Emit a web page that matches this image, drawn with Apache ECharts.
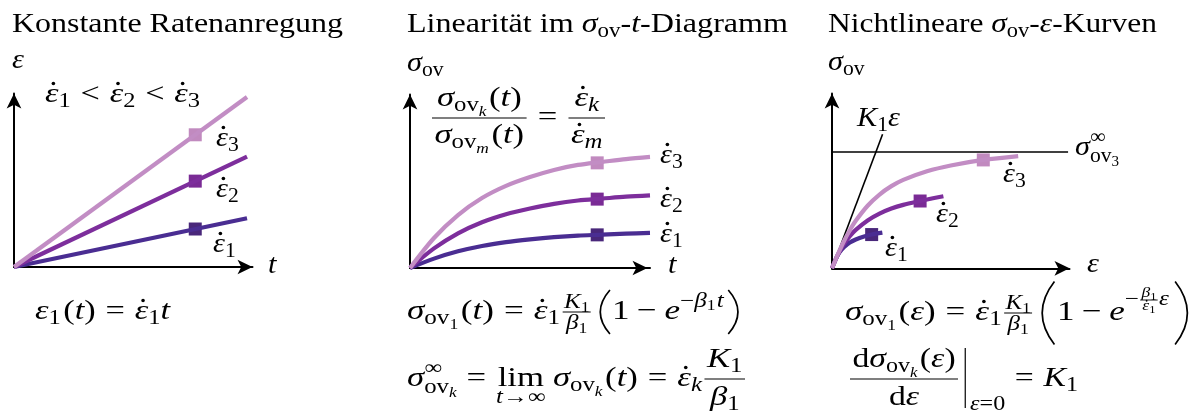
<!DOCTYPE html>
<html>
<head>
<meta charset="utf-8">
<script src="https://cdn.jsdelivr.net/npm/echarts@6/dist/echarts.min.js"></script>
<style>
  html, body { margin: 0; padding: 0; background: #fff; }
  #chart { width: 1203px; height: 415px; }
</style>
</head>
<body>
<div id="chart"></div>
<script>
// ---------- data ----------
// colours for strain rates ε̇1 < ε̇2 < ε̇3
const rateColors = ['#4a2d92', '#7d2e9c', '#c28dc4'];
const markColors = ['#49277a', '#7a2b95', '#c18abf'];

// Konstante Ratenanregung: ε(t) = ε̇_k t
const rampTime = [0, 9.77];
const rampStrainEnd = [2.81, 6.36, 9.80];
const rampMarkTime = 7.6;
const rampMarkStrain = [2.19, 4.95, 7.62];

// σ_ov over t
const ovTime = [0, 1, 2, 3, 4, 5, 6, 7, 8, 9, 10];
const ovStress1 = [0, 0.54, 0.96, 1.27, 1.49, 1.65, 1.78, 1.87, 1.92, 1.98, 2.02];
const ovStress2 = [0, 1.13, 2.00, 2.64, 3.10, 3.43, 3.70, 3.89, 4.00, 4.11, 4.19];
const ovStress3 = [0, 1.73, 3.05, 4.03, 4.73, 5.24, 5.65, 5.94, 6.11, 6.28, 6.40];
const ovMarkTime = 7.8;
const ovMarkStress = [1.91, 3.97, 6.06];

// σ_ov over ε
const curveStrain1 = [0, 0.15, 0.3, 0.5, 0.75, 1.0, 1.35, 1.67, 2.12];
const curveStress1 = [0, 0.50, 0.88, 1.20, 1.47, 1.65, 1.82, 1.93, 2.04];
const curveStrain2 = [0, 0.25, 0.5, 0.75, 1.0, 1.5, 2.0, 2.5, 3.0, 3.71, 4.2, 4.69];
const curveStress2 = [0, 0.78, 1.38, 1.84, 2.20, 2.74, 3.13, 3.42, 3.63, 3.85, 3.99, 4.12];
const curveStrain3 = [0, 0.25, 0.5, 0.75, 1.0, 1.5, 2.0, 2.5, 3.0, 4.0, 5.0, 6.37, 7.84];
const curveStress3 = [0, 0.81, 1.55, 2.18, 2.72, 3.58, 4.22, 4.70, 5.06, 5.55, 5.88, 6.20, 6.42];
const curveMarkIndex = [7, 9, 11];
const asymptoteStress = 6.65;
const asymptoteStrainEnd = 9.94;
const tangentEnd = [2.13, 7.67];

// ---------- formula typesetting helpers ----------
const FAMILY = 'Liberation Serif';
const meas = document.createElement('canvas').getContext('2d');
function font(s, it) { return (it ? 'italic ' : '') + s + 'px "' + FAMILY + '"'; }
function tw(t, s, it) { meas.font = font(s, it); return meas.measureText(t).width; }
const midCache = {};
// distance from the middle of the em box down to the alphabetic baseline
function mid(s, it) {
  const key = s + '|' + it;
  if (!(key in midCache)) {
    meas.font = font(s, it);
    meas.textBaseline = 'middle';
    midCache[key] = meas.measureText('H').actualBoundingBoxDescent;
    meas.textBaseline = 'alphabetic';
  }
  return midCache[key];
}

const R = (t, s = 28, dy = 0, g = 0) => ({ k: 't', t, s, i: false, dy, g });
const I = (t, s = 28, dy = 0, g = 0) => ({ k: 't', t, s, i: true, dy, g });
const E = (s = 28, dy = 0, g = 0) => ({ k: 't', t: 'ε', s, i: true, dy, g, dot: true });
const F = (num, den, o = {}) => Object.assign({ k: 'f', num, den, up: 12, down: 26, ax: 7, dy: 0, pad: 2, lw: 1.2, g: 0 }, o);
const P = (ch, h, w, g = 0) => ({ k: 'p', ch, h, w, g });
const SS = (sup, sub, g = 0) => ({ k: 'ss', sup, sub, g });
const U = (main, under, udy, g = 0) => ({ k: 'u', main, under, udy, g });
const V = (top, bot, w, g = 0) => ({ k: 'v', top, bot, w, g });

const graphics = [];

function lay(toks, x, base, c) {
  for (const k of toks) {
    x += k.g || 0;
    if (k.k === 't') {
      const w = tw(k.t, k.s, k.i);
      if (c) {
        const X = c.X0 + x * c.sx, Y = base + k.dy;
        // text boxes are top-aligned: the line box is one em tall, glyphs centred in it
        c.out.push({
          type: 'text', x: X, y: Y - mid(k.s, k.i) - k.s / 2, scaleX: c.sx, silent: true,
          style: { text: k.t, font: font(k.s, k.i), fill: '#000' }
        });
        if (k.dot) {
          c.out.push({ type: 'circle', silent: true,
            shape: { cx: X + w * 0.62 * c.sx, cy: Y - 0.66 * k.s, r: 0.065 * k.s }, style: { fill: '#000' } });
        }
      }
      x += w;
    } else if (k.k === 'f') {
      const wn = lay(k.num, 0, 0, null), wd = lay(k.den, 0, 0, null);
      const w = Math.max(wn, wd) + 2 * k.pad;
      if (c) {
        const ay = base + k.dy - k.ax;
        lay(k.num, x + (w - wn) / 2, ay - k.up, c);
        lay(k.den, x + (w - wd) / 2, ay + k.down, c);
        c.out.push({ type: 'rect', silent: true,
          shape: { x: c.X0 + x * c.sx, y: ay - k.lw / 2, width: w * c.sx, height: k.lw }, style: { fill: '#000' } });
      }
      x += w;
    } else if (k.k === 'p') {
      if (c) {
        const ay = base - 7, top = ay - k.h / 2, bot = ay + k.h / 2;
        const xl = c.X0 + x * c.sx, xr = c.X0 + (x + k.w) * c.sx, wd = xr - xl;
        let xe, xb;
        if (k.ch === '(') { xe = xl + wd * 0.85; xb = xl + wd * 0.15; } else { xe = xl + wd * 0.15; xb = xl + wd * 0.85; }
        c.out.push({ type: 'bezierCurve', silent: true,
          shape: { x1: xe, y1: top, x2: xe, y2: bot, cpx1: 2 * xb - xe, cpy1: ay },
          style: { stroke: '#000', lineWidth: 1.7, fill: 'none' } });
      }
      x += k.w;
    } else if (k.k === 'ss') {
      const w1 = lay(k.sup, 0, 0, null), w2 = lay(k.sub, 0, 0, null);
      if (c) { lay(k.sup, x, base, c); lay(k.sub, x, base, c); }
      x += Math.max(w1, w2);
    } else if (k.k === 'u') {
      const wm = lay(k.main, 0, 0, null), wu = lay(k.under, 0, 0, null), w = Math.max(wm, wu);
      if (c) { lay(k.main, x + (w - wm) / 2, base, c); lay(k.under, x + (w - wu) / 2, base + k.udy, c); }
      x += w;
    } else if (k.k === 'v') {
      if (c) {
        const X = c.X0 + (x + k.w / 2) * c.sx;
        c.out.push({ type: 'rect', silent: true,
          shape: { x: X - 0.6, y: base + k.top, width: 1.2, height: k.bot - k.top }, style: { fill: '#000' } });
      }
      x += k.w;
    }
  }
  return x;
}

// place a token row at x0 on the given baseline; optionally stretch it to end at x1
function eq(toks, x0, base, x1) {
  const natural = lay(toks, 0, 0, null);
  const sx = x1 ? (x1 - x0) / natural : 1.08;
  lay(toks, 0, base, { X0: x0, sx, out: graphics });
}

// ---------- texts ----------
// titles
eq([R('Konstante Ratenanregung')], 12, 32, 343);
eq([R('Linearität im '), I('σ'), R('ov', 20, 5), R('-'), I('t'), R('-Diagramm')], 407, 32, 788);
eq([R('Nichtlineare '), I('σ'), R('ov', 20, 5), R('-'), I('ε'), R('-Kurven')], 828, 32, 1157);

// panel 1
eq([I('ε')], 12, 68);
eq([E(), R('1', 20, 5), R('<', 28, 0, 8), E(28, 0, 8), R('2', 20, 5), R('<', 28, 0, 8), E(28, 0, 8), R('3', 20, 5)], 45, 102, 200);
eq([E(), R('3', 20, 5)], 216, 146);
eq([E(), R('2', 20, 5)], 216, 197);
eq([E(), R('1', 20, 5)], 213, 252);
eq([I('t')], 268, 273);
eq([I('ε'), R('1', 20, 5), R('(', 28, 0, 2), I('t'), R(')'), R('=', 28, 0, 8), E(28, 0, 8), R('1', 20, 5), I('t')], 35, 319, 170);

// panel 2
eq([I('σ'), R('ov', 20, 5)], 407, 71);
eq([F([I('σ'), R('ov', 20, 5), I('k', 14, 10), R('(', 28, 0, 2), I('t'), R(')')],
      [I('σ'), R('ov', 20, 5), I('m', 14, 10), R('(', 28, 0, 2), I('t'), R(')')], { up: 12, down: 25 }),
    R('=', 28, 0, 9),
    F([E(), I('k', 20, 5)], [E(), I('m', 20, 5)], { up: 12, down: 25, g: 9 })], 432, 125, 605);
eq([E(), R('3', 20, 5)], 660, 163);
eq([E(), R('2', 20, 5)], 660, 207);
eq([E(), R('1', 20, 5)], 660, 242);
eq([I('t')], 668, 273);
eq([I('σ'), R('ov', 20, 5), R('1', 14, 10), R('(', 28, 0, 2), I('t'), R(')'), R('=', 28, 0, 8), E(28, 0, 8), R('1', 20, 5),
    F([I('K', 20), R('1', 14, 4)], [I('β', 20), R('1', 14, 4)], { up: 4, down: 17, g: 2, pad: 1, lw: 1 }),
    P('(', 44, 11, 6), R('1'), R('−', 28, 0, 6), I('e', 28, 0, 6),
    R('−', 20, -12), I('β', 20, -12), R('1', 14, -9), I('t', 20, -12, 1), P(')', 44, 11, 2)], 407, 319, 740);
eq([I('σ'), SS([R('∞', 20, -12)], [R('ov', 20, 7), I('k', 14, 11)]),
    R('=', 28, 0, 8), U([R('lim')], [I('t', 20), R('→', 20), R('∞', 20)], 17, 8),
    I('σ', 28, 0, 6), R('ov', 20, 5), I('k', 14, 10), R('(', 28, 0, 2), I('t'), R(')'), R('=', 28, 0, 8), E(28, 0, 8), I('k', 20, 5),
    F([I('K'), R('1', 20, 5)], [I('β'), R('1', 20, 5)], { up: 12, down: 26, g: 2 })], 407, 386, 745);

// panel 3
eq([I('σ'), R('ov', 20, 5)], 828, 70);
eq([I('K'), R('1', 20, 5), I('ε')], 857, 126);
eq([I('σ'), SS([R('∞', 20, -12)], [R('ov', 20, 7), R('3', 14, 11)])], 1075, 155);
eq([E(), R('3', 20, 5)], 1003, 182);
eq([E(), R('2', 20, 5)], 936, 222);
eq([E(), R('1', 20, 5)], 885, 256);
eq([I('ε')], 1087, 272);
eq([I('σ'), R('ov', 20, 5), R('1', 14, 10), R('(', 28, 0, 2), I('ε'), R(')'), R('=', 28, 0, 8), E(28, 0, 8), R('1', 20, 5),
    F([I('K', 20), R('1', 14, 4)], [I('β', 20), R('1', 14, 4)], { up: 4, down: 17, g: 2, pad: 1, lw: 1 }),
    P('(', 63, 14, 6), R('1'), R('−', 28, 0, 6), I('e', 28, 0, 6),
    R('−', 20, -15),
    F([I('β', 14), R('1', 10, 3)], [E(14), R('1', 10, 3)], { dy: -15, ax: 5, up: 3, down: 10, pad: 1, lw: 0.9, g: 1 }),
    I('ε', 20, -15, 1), P(')', 63, 14, 3)], 845, 320, 1190);
eq([F([R('d'), I('σ'), R('ov', 20, 5), I('k', 14, 10), R('(', 28, 0, 2), I('ε'), R(')')], [R('d'), I('ε')], { up: 12, down: 26 }),
    V(-38, 22, 8, 2), I('ε', 20, 24), R('=', 20, 24), R('0', 20, 24),
    R('=', 28, 0, 8), I('K', 28, 0, 8), R('1', 20, 5)], 850, 386, 1078);

// ---------- chart ----------
function axisPair(i, endOffset) {
  const line = {
    show: true, onZero: false, symbol: ['none', 'arrow'], symbolSize: [11, 15],
    symbolOffset: [0, endOffset || 0], lineStyle: { color: '#000', width: 2 }
  };
  const common = { gridIndex: i, type: 'value', min: 0, max: 10, axisTick: { show: false },
    axisLabel: { show: false }, splitLine: { show: false } };
  return [Object.assign({}, common, { axisLine: line }),
          Object.assign({}, common, { axisLine: Object.assign({}, line, { symbolOffset: [0, 0] }) })];
}
const ax = [axisPair(0), axisPair(1, -2.5), axisPair(2)];

function curve(i, xs, ys, color) {
  return { type: 'line', xAxisIndex: i, yAxisIndex: i, data: xs.map((x, j) => [x, ys[j]]),
    smooth: 0.3, showSymbol: false, symbol: 'none', clip: false, silent: true,
    lineStyle: { color, width: 4.2, cap: 'butt' } };
}
function marks(i, pts, colors) {
  return pts.map((p, j) => ({ type: 'scatter', xAxisIndex: i, yAxisIndex: i, data: [p], symbol: 'rect',
    symbolSize: 13, silent: true, clip: false, itemStyle: { color: colors[j], opacity: 1 } }));
}
function thin(i, pts) {
  return { type: 'line', xAxisIndex: i, yAxisIndex: i, data: pts, showSymbol: false, symbol: 'none',
    silent: true, clip: false, lineStyle: { color: '#000', width: 1.6 } };
}

const series = [];
// panel 1
rampStrainEnd.forEach((e, j) => series.push(curve(0, rampTime, [0, e], rateColors[j])));
series.push(...marks(0, rampMarkStrain.map(v => [rampMarkTime, v]), markColors));
// panel 2
[ovStress1, ovStress2, ovStress3].forEach((ys, j) => series.push(curve(1, ovTime, ys, rateColors[j])));
series.push(...marks(1, ovMarkStress.map(v => [ovMarkTime, v]), markColors));
// panel 3
series.push(thin(2, [[0, asymptoteStress], [asymptoteStrainEnd, asymptoteStress]]));
series.push(thin(2, [[0, 0], tangentEnd]));
const cx3 = [curveStrain1, curveStrain2, curveStrain3], cy3 = [curveStress1, curveStress2, curveStress3];
cx3.forEach((xs, j) => series.push(curve(2, xs, cy3[j], rateColors[j])));
series.push(...marks(2, cx3.map((xs, j) => [xs[curveMarkIndex[j]], cy3[j][curveMarkIndex[j]]]), markColors));

const chart = echarts.init(document.getElementById('chart'), null, { renderer: 'canvas' });
chart.setOption({
  backgroundColor: '#fff',
  animation: false,
  grid: [
    { left: 14, top: 93.5, width: 238.5, height: 173.5 },
    { left: 410, top: 94.5, width: 240, height: 173.5 },
    { left: 832, top: 93.5, width: 237.5, height: 174.8 }
  ],
  xAxis: ax.map(a => a[0]),
  yAxis: ax.map(a => a[1]),
  series,
  graphic: { elements: graphics }
});
</script>
</body>
</html>
